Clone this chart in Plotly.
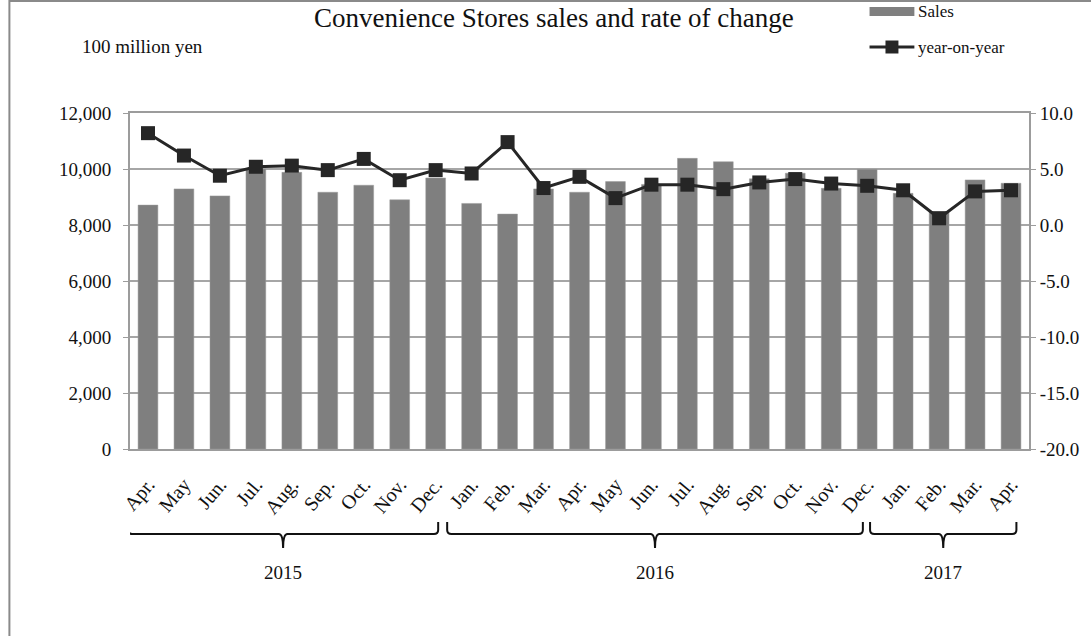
import plotly.graph_objects as go

# ---------------- data ----------------
month_labels = ["Apr.", "May", "Jun.", "Jul.", "Aug.", "Sep.", "Oct.", "Nov.", "Dec.",
                "Jan.", "Feb.", "Mar.", "Apr.", "May", "Jun.", "Jul.", "Aug.", "Sep.",
                "Oct.", "Nov.", "Dec.", "Jan.", "Feb.", "Mar.", "Apr."]
sales = [8710, 9290, 9040, 10000, 9880, 9170, 9420, 8900, 9680,
         8770, 8390, 9290, 9170, 9550, 9450, 10380, 10260, 9650,
         9850, 9310, 9990, 9130, 8480, 9610, 9490]
yoy = [8.2, 6.2, 4.4, 5.2, 5.3, 4.9, 5.9, 4.0, 4.9,
       4.6, 7.4, 3.3, 4.3, 2.4, 3.6, 3.6, 3.2, 3.8,
       4.1, 3.7, 3.5, 3.1, 0.6, 3.0, 3.1]
years = ["2015", "2016", "2017"]
year_start_idx = [0, 9, 21]
year_end_idx = [8, 20, 24]
left_ticks = [0, 2000, 4000, 6000, 8000, 10000, 12000]
left_ticktext = ["0", "2,000", "4,000", "6,000", "8,000", "10,000", "12,000"]
right_ticks = [-20, -15, -10, -5, 0, 5, 10]
right_ticktext = ["-20.0", "-15.0", "-10.0", "-5.0", "0.0", "5.0", "10.0"]

FONT = "Liberation Serif, Times New Roman, serif"
W, H = 1091, 636
L, R, T, B = 130, 59, 113, 187
PW, PH = W - L - R, H - T - B

def px_x(px):
    return (px - L) / PW

def px_y(py):
    return (H - B - py) / PH

x_idx = list(range(len(month_labels)))

fig = go.Figure()
fig.add_trace(go.Bar(
    x=x_idx, y=sales, name="Sales",
    marker=dict(color="#7f7f7f", line=dict(color="#9a9a9a", width=0.5)),
    width=0.55, yaxis="y", showlegend=False,
))
fig.add_trace(go.Scatter(
    x=x_idx, y=yoy, name="year-on-year", mode="lines+markers",
    line=dict(color="#262626", width=3),
    marker=dict(symbol="square", size=14, color="#262626"),
    yaxis="y2", showlegend=False,
))

axis_col = "#9c9c9c"
fig.update_layout(
    width=W, height=H,
    margin=dict(l=L, r=R, t=T, b=B, pad=0),
    paper_bgcolor="white", plot_bgcolor="white",
    font=dict(family=FONT, size=19, color="#111111"),
    bargap=0.45,
    xaxis=dict(
        range=[-0.5, len(month_labels) - 0.5],
        tickmode="array", tickvals=x_idx, ticktext=month_labels,
        tickangle=-50, ticks="", showgrid=False,
        showline=True, linecolor=axis_col, linewidth=2, mirror=True,
        tickfont=dict(family=FONT, size=20),
        ticklabelstandoff=14,
    ),
    yaxis=dict(
        range=[0, 12000], tickmode="array", tickvals=left_ticks, ticktext=left_ticktext,
        showgrid=True, gridcolor="#a6a6a6", gridwidth=1.5,
        showline=True, linecolor=axis_col, linewidth=2,
        ticks="outside", ticklen=5, tickcolor=axis_col,
        tickfont=dict(family=FONT, size=19), ticklabelstandoff=8, zeroline=False,
    ),
    yaxis2=dict(
        range=[-20, 10], overlaying="y", side="right",
        tickmode="array", tickvals=right_ticks, ticktext=right_ticktext,
        showgrid=False, showline=True, linecolor=axis_col, linewidth=2,
        ticks="outside", ticklen=5, tickcolor=axis_col,
        tickfont=dict(family=FONT, size=19), zeroline=False,
    ),
)

shapes = []
annotations = []

# outer frame
shapes.append(dict(type="rect", xref="paper", yref="paper",
                   x0=px_x(9), x1=px_x(1100), y0=px_y(645), y1=px_y(1),
                   line=dict(color="#8a8a8a", width=2), fillcolor="rgba(0,0,0,0)", layer="below"))

# title
annotations.append(dict(text="Convenience Stores sales and rate of change",
                        xref="paper", yref="paper", x=px_x(555), y=px_y(18),
                        xanchor="center", yanchor="middle", showarrow=False,
                        font=dict(family=FONT, size=27, color="#111111")))
# unit label
annotations.append(dict(text="100 million yen", xref="paper", yref="paper",
                        x=px_x(80), y=px_y(46), xanchor="left", yanchor="middle",
                        showarrow=False, font=dict(family=FONT, size=19)))

# custom legend
shapes.append(dict(type="rect", xref="paper", yref="paper",
                   x0=px_x(872), x1=px_x(917), y0=px_y(16), y1=px_y(7),
                   fillcolor="#7f7f7f", line=dict(width=0)))
annotations.append(dict(text="Sales", xref="paper", yref="paper",
                        x=px_x(919), y=px_y(12), xanchor="left", yanchor="middle",
                        showarrow=False, font=dict(family=FONT, size=17)))
shapes.append(dict(type="line", xref="paper", yref="paper",
                   x0=px_x(872), x1=px_x(917), y0=px_y(47), y1=px_y(47),
                   line=dict(color="#262626", width=3)))
shapes.append(dict(type="rect", xref="paper", yref="paper",
                   x0=px_x(888), x1=px_x(901), y0=px_y(53.5), y1=px_y(40.5),
                   fillcolor="#262626", line=dict(width=0)))
annotations.append(dict(text="year-on-year", xref="paper", yref="paper",
                        x=px_x(919), y=px_y(47), xanchor="left", yanchor="middle",
                        showarrow=False, font=dict(family=FONT, size=17)))

# year brackets (layout geometry in category units)
bracket_left_off = [-0.555, -0.68, -0.92]
bracket_right_off = [0.07, -0.12, 0.15]
y_top, y_mid, y_stem = px_y(522), px_y(534), px_y(548)
for yr, s, e, lo, ro in zip(years, year_start_idx, year_end_idx, bracket_left_off, bracket_right_off):
    xa, xb = s + lo, e + ro
    xc = (xa + xb) / 2
    d = 0.12
    path = (f"M {xa},{y_top} L {xa},{y_mid + 0.012} Q {xa},{y_mid} {xa + d},{y_mid} "
            f"L {xc - d},{y_mid} Q {xc},{y_mid} {xc},{y_stem} "
            f"Q {xc},{y_mid} {xc + d},{y_mid} L {xb - d},{y_mid} "
            f"Q {xb},{y_mid} {xb},{y_mid + 0.012} L {xb},{y_top}")
    shapes.append(dict(type="path", xref="x", yref="paper", path=path,
                       line=dict(color="#111111", width=2)))
    annotations.append(dict(text=yr, xref="x", yref="paper", x=xc, y=px_y(572),
                            xanchor="center", yanchor="middle", showarrow=False,
                            font=dict(family=FONT, size=19)))

fig.update_layout(shapes=shapes, annotations=annotations)
fig.write_html("out.html")
